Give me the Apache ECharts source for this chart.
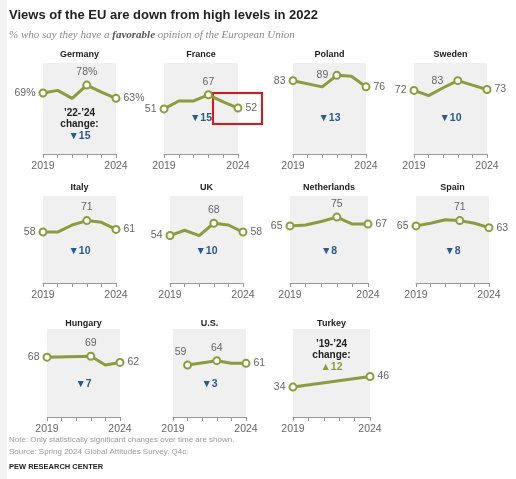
<!DOCTYPE html>
<html>
<head>
<meta charset="utf-8">
<script src="https://cdn.jsdelivr.net/npm/echarts@6/dist/echarts.min.js"></script>
<style>
html, body { margin: 0; padding: 0; background: #fff; }
#chart { width: 516px; height: 479px; }
</style>
</head>
<body>
<div id="chart"></div>
<script>
// years on every small panel
const years = ['2019', '2020', '2021', '2022', '2023', '2024'];
const countries = ['Germany', 'France', 'Poland', 'Sweden', 'Italy', 'UK', 'Netherlands', 'Spain', 'Hungary', 'U.S.', 'Turkey'];

// % favorable of the EU, null = not surveyed
const germany = [69, 72, 63, 78, 70, 63];
const france = [51, 60, 60, 67, 59, 52];
const poland = [83, null, 76, 89, 88, 76];
const sweden = [72, 66, 75, 83, 78, 73];
const italy = [58, 58, 66, 71, 69, 61];
const uk = [54, 60, 54, 68, 66, 58];
const netherlands = [65, 66, 70, 75, 67, 67];
const spain = [65, 68, 72, 71, 68, 63];
const hungary = [68, null, null, 69, 59, 62];
const us = [null, 59, null, 64, 61, 61];
const turkey = [34, null, null, null, null, 46];

// '22-'24 change (Turkey: '19-'24)
const changes = [-15, -15, -13, -10, -10, -10, -8, -8, -7, -3, 12];

const values = [germany, france, poland, sweden, italy, uk, netherlands, spain, hungary, us, turkey];

// panel boxes: left, top, width, height, title offset
const panels = [
  [43, 63, 73, 91, 8], [164, 63, 74, 91, 8], [293, 63, 73, 91, 8], [414, 63, 73, 91, 8],
  [43, 196, 73, 87, 8], [170, 196, 73, 87, 8], [290, 196, 78, 87, 8], [416, 196, 73, 87, 8],
  [47, 329, 73, 88, 5], [173, 329, 73, 88, 5], [293, 329, 77, 88, 5]
];

const OLIVE = '#8d9b3a';
const BLUE = '#2b5a8a';
const FONT = '"Liberation Sans", Arial, sans-serif';

const chart = echarts.init(document.getElementById('chart'));

const grids = panels.map(p => ({
  left: p[0], top: p[1], width: p[2], height: p[3],
  show: true, backgroundColor: '#f0f0f0', borderWidth: 0
}));

const xAxes = panels.map((p, i) => ({
  gridIndex: i,
  type: 'category',
  data: years,
  boundaryGap: false,
  axisLine: { lineStyle: { color: '#9a9a9a', width: 1 } },
  axisTick: { show: true, interval: 0, length: 4, lineStyle: { color: '#9a9a9a' } },
  axisLabel: {
    interval: 0,
    margin: 7,
    color: '#666',
    fontSize: 10.5,
    fontFamily: FONT,
    formatter: (v, idx) => (idx === 0 || idx === years.length - 1) ? v : ''
  },
  splitLine: { show: false }
}));

// same vertical scale everywhere: about 0.88 px per point
const yAxes = panels.map((p, i) => ({
  gridIndex: i, type: 'value', min: 0, max: Math.round(p[3] / 0.88), show: false
}));

const series = values.map((vals, i) => {
  const first = vals.findIndex(v => v != null);
  let last = vals.length - 1;
  while (vals[last] == null) last--;
  const suffix = i === 0 ? '%' : '';
  return {
    type: 'line',
    xAxisIndex: i,
    yAxisIndex: i,
    connectNulls: true,
    silent: true,
    animation: false,
    symbolSize: 7,
    lineStyle: { color: OLIVE, width: 3 },
    itemStyle: { color: '#fff', borderColor: OLIVE, borderWidth: 2 },
    data: vals.map((v, j) => {
      if (v == null) return '-';
      const marked = j === first || j === last || j === 3;
      if (!marked) return { value: v, symbol: 'none' };
      let pos = 'top';
      let dist = 3;
      let off = [0, 0];
      if (j === first) {
        pos = 'left';
        if (first > 0) { pos = 'top'; off = [-7, 0]; }  // U.S. starts in 2020
      } else if (j === last) pos = 'right';
      else if (v >= 80) { pos = 'left'; dist = v < 85 ? 10 : 4; }
      return {
        value: v,
        symbol: 'circle',
        label: {
          show: true, position: pos, distance: dist, offset: off,
          formatter: v + suffix, color: '#666', fontSize: 10.5, fontFamily: FONT
        }
      };
    })
  };
});

const graphics = [];
// light strip on the left edge
graphics.push({ type: 'rect', shape: { x: 0, y: 0, width: 7, height: 479 }, style: { fill: '#f2f2f2' }, silent: true });
graphics.push({
  type: 'text', x: 9, y: 15,
  style: { text: 'Views of the EU are down from high levels in 2022', font: 'bold 13px ' + FONT, fill: '#222', verticalAlign: 'middle' }
});
graphics.push({
  type: 'text', x: 9, y: 35,
  style: {
    text: '{a|% who say they have a }{b|favorable}{a| opinion of the European Union}',
    verticalAlign: 'middle',
    rich: {
      a: { fontFamily: '"Liberation Serif", serif', fontStyle: 'italic', fontSize: 11, fill: '#8a8a8a', color: '#8a8a8a' },
      b: { fontFamily: '"Liberation Serif", serif', fontStyle: 'italic', fontWeight: 'bold', fontSize: 11, fill: '#555', color: '#555' }
    }
  }
});

panels.forEach((p, i) => {
  const cx = p[0] + p[2] / 2;
  graphics.push({
    type: 'text', x: cx, y: p[1] - p[4],
    style: { text: countries[i], font: 'bold 9px ' + FONT, fill: '#222', align: 'center', verticalAlign: 'middle' }
  });
  const c = changes[i];
  const arrow = c < 0 ? '\u25BC' : '\u25B2';
  const txt = arrow + Math.abs(c);
  const col = c < 0 ? BLUE : OLIVE;
  let dy = 55;
  if (i === 0 || i === 10) {
    const head = i === 0 ? '\u201922-\u201924' : '\u201919-\u201924';
    const base = i === 0 ? 50 : 15;
    graphics.push({ type: 'text', x: cx, y: p[1] + base, style: { text: head, font: 'bold 10px ' + FONT, fill: '#222', align: 'center', verticalAlign: 'middle' } });
    graphics.push({ type: 'text', x: cx, y: p[1] + base + 11.5, style: { text: 'change:', font: 'bold 10px ' + FONT, fill: '#222', align: 'center', verticalAlign: 'middle' } });
    dy = base + 23;
  }
  graphics.push({
    type: 'text', x: cx, y: p[1] + dy,
    style: { text: txt, font: 'bold 10.5px ' + FONT, fill: col, align: 'center', verticalAlign: 'middle' }
  });
});

// red highlight box on the France panel
graphics.push({ type: 'rect', shape: { x: 213, y: 93, width: 49, height: 31 }, style: { fill: 'none', stroke: '#e3131b', lineWidth: 2 }, silent: true });

graphics.push({ type: 'text', x: 9, y: 440, style: { text: 'Note: Only statistically significant changes over time are shown.', font: '8px ' + FONT, fill: '#9a9a9a', verticalAlign: 'middle' } });
graphics.push({ type: 'text', x: 9, y: 452, style: { text: 'Source: Spring 2024 Global Attitudes Survey. Q4c.', font: '8px ' + FONT, fill: '#9a9a9a', verticalAlign: 'middle' } });
graphics.push({ type: 'text', x: 9, y: 467, style: { text: 'PEW RESEARCH CENTER', font: 'bold 7.5px ' + FONT, fill: '#222', verticalAlign: 'middle' } });

chart.setOption({
  animation: false,
  grid: grids,
  xAxis: xAxes,
  yAxis: yAxes,
  series: series,
  graphic: graphics
});
</script>
</body>
</html>
